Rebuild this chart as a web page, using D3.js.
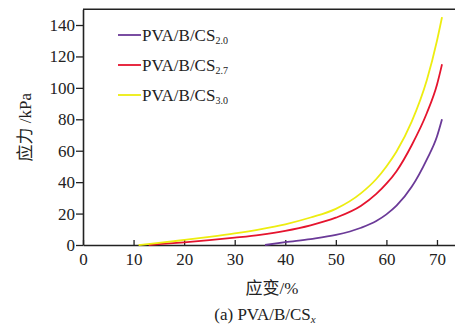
<!DOCTYPE html>
<html>
<head>
<meta charset="utf-8">
<script src="https://cdn.jsdelivr.net/npm/d3@7"></script>
<style>
	body { margin: 0; background: #fff; }
	text { font-family: "Liberation Serif", "Noto Sans CJK SC", serif; fill: #222; }
</style>
</head>
<body>
<div id="chart"></div>
<script>
// data
const strain2_0 = [36, 40, 45, 50, 55, 58, 60, 62, 65, 68, 70, 71];
const stress2_0 = [0, 1.8, 3.8, 6.4, 11, 15.3, 19.5, 25, 37, 54.5, 69, 80];
const strain2_7 = [13, 15, 20, 25, 30, 35, 40, 45, 50, 55, 58, 60, 62, 65, 68, 70, 71];
const stress2_7 = [0, 0.5, 1.7, 3.1, 4.7, 6.5, 9, 12.5, 17.4, 25, 32.5, 39, 47, 63.5, 84, 102, 115];
const strain3_0 = [11, 15, 20, 25, 30, 35, 40, 45, 50, 55, 58, 60, 62, 65, 68, 70, 71];
const stress3_0 = [0, 1.3, 3.2, 5.2, 7.4, 10, 13.2, 17.5, 23, 33, 42, 50, 59.5, 78.5, 105, 130, 145];
const seriesNames = ['2.0', '2.7', '3.0'];
const seriesColors = ['#6b3a98', '#e5142e', '#eded10'];
const xTicks = [0, 10, 20, 30, 40, 50, 60, 70];
const yTicks = [0, 20, 40, 60, 80, 100, 120, 140];

const W = 455, H = 325;
const svg = d3.select('#chart').append('svg')
	.attr('width', W)
	.attr('height', H);

const x = d3.scaleLinear().domain([0, 74]).range([83, 457.2]);
const y = d3.scaleLinear().domain([0, 150]).range([245, 9.3]);

const series = [
	{ xs: strain2_0, ys: stress2_0 },
	{ xs: strain2_7, ys: stress2_7 },
	{ xs: strain3_0, ys: stress3_0 }
];

// frame top / right
svg.append('path')
	.attr('d', `M${x(0)},${y(150)}H${x(74)}V${y(0)}`)
	.attr('fill', 'none')
	.attr('stroke', '#222')
	.attr('stroke-width', 1.6);

// x axis, ticks pointing in
const gx = svg.append('g')
	.attr('transform', `translate(0,${y(0)})`)
	.call(d3.axisBottom(x).tickValues(xTicks).tickSize(-5).tickPadding(8).tickSizeOuter(0));
// y axis, ticks pointing out
const gy = svg.append('g')
	.attr('transform', `translate(${x(0)},0)`)
	.call(d3.axisLeft(y).tickValues(yTicks).tickSize(7).tickPadding(1).tickSizeOuter(0));

[gx, gy].forEach(g => {
	g.select('.domain').attr('stroke', '#222').attr('stroke-width', 1.6);
	g.selectAll('.tick line').attr('stroke', '#222').attr('stroke-width', 1.3);
	g.selectAll('.tick text')
		.style('font-family', '"Liberation Serif", serif')
		.style('font-size', '17px')
		.attr('fill', '#222');
});

// curves
const line = d3.line()
	.x(d => x(d[0]))
	.y(d => y(d[1]))
	.curve(d3.curveMonotoneX);

series.forEach((s, i) => {
	svg.append('path')
		.datum(s.xs.map((v, k) => [v, s.ys[k]]))
		.attr('fill', 'none')
		.attr('stroke', seriesColors[i])
		.attr('stroke-width', 1.8)
		.attr('d', line);
});

// legend
seriesNames.forEach((n, i) => {
	const ly = 35 + i * 30;
	svg.append('line')
		.attr('x1', 118).attr('x2', 141)
		.attr('y1', ly).attr('y2', ly)
		.attr('stroke', seriesColors[i])
		.attr('stroke-width', 1.8);
	const t = svg.append('text')
		.attr('x', 142)
		.attr('y', ly + 6)
		.style('font-size', '17px');
	t.append('tspan').text('PVA/B/CS');
	t.append('tspan')
		.attr('dy', 3)
		.style('font-size', '10px')
		.text(n);
});

// axis titles
svg.append('text')
	.attr('transform', `translate(31,${(y(0) + y(150)) / 2}) rotate(-90)`)
	.attr('text-anchor', 'middle')
	.style('font-size', '17px')
	.text('应力 /kPa');

svg.append('text')
	.attr('x', 272)
	.attr('y', 294)
	.attr('text-anchor', 'middle')
	.style('font-size', '17px')
	.text('应变/%');

const cap = svg.append('text')
	.attr('x', 265)
	.attr('y', 320)
	.attr('text-anchor', 'middle')
	.style('font-size', '17px');
cap.append('tspan').text('(a) PVA/B/CS');
cap.append('tspan')
	.attr('dy', 3)
	.style('font-size', '11px')
	.style('font-style', 'italic')
	.text('x');
</script>
</body>
</html>
